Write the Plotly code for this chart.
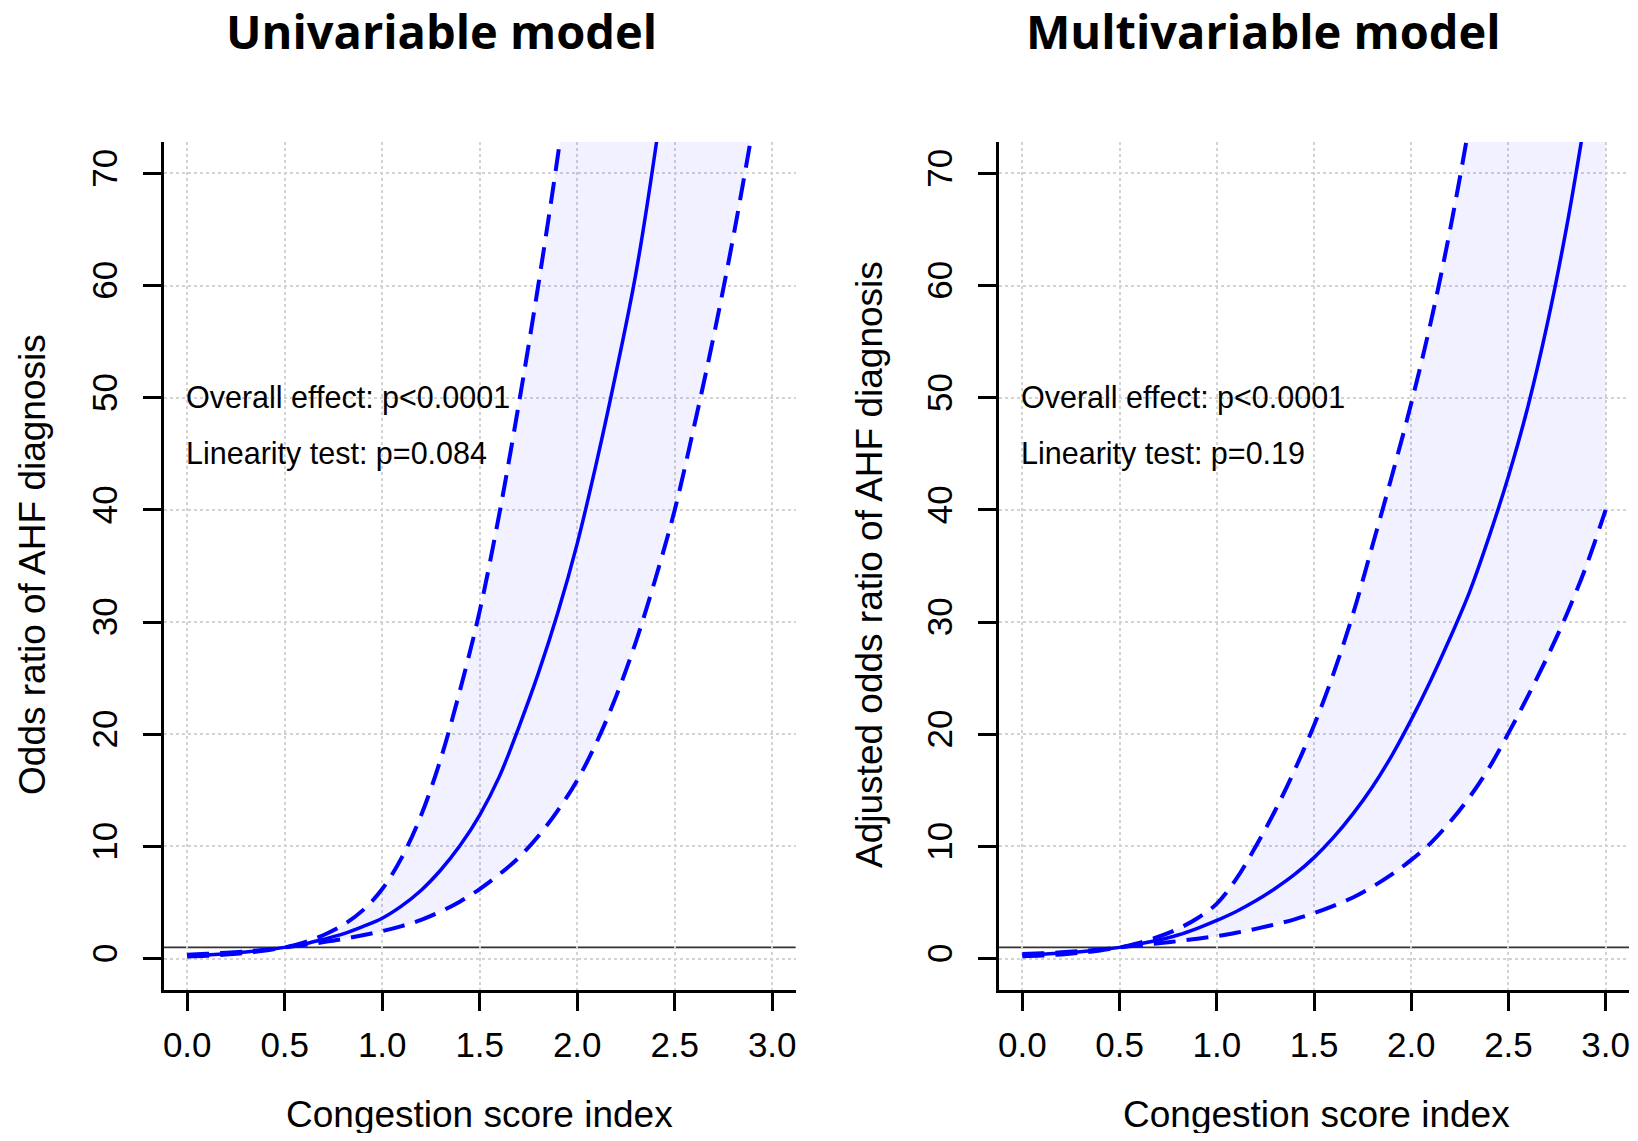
import plotly.graph_objects as go

# ---------------- data ----------------
panel_titles = ["Univariable model", "Multivariable model"]
y_titles = ["Odds ratio of AHF diagnosis", "Adjusted odds ratio of AHF diagnosis"]
x_title = "Congestion score index"
notes_uni = ["Overall effect: p&lt;0.0001", "Linearity test: p=0.084"]
notes_multi = ["Overall effect: p&lt;0.0001", "Linearity test: p=0.19"]

x_tickvals = [0.0, 0.5, 1.0, 1.5, 2.0, 2.5, 3.0]
x_ticktext = ["0.0", "0.5", "1.0", "1.5", "2.0", "2.5", "3.0"]
y_tickvals = [0, 10, 20, 30, 40, 50, 60, 70]
y_ticktext = ["0", "10", "20", "30", "40", "50", "60", "70"]

# Univariable model (x = congestion score index, step 0.1)
x_uni_or = [0.0, 0.1, 0.2, 0.3, 0.4, 0.5, 0.6, 0.7, 0.8, 0.9, 1.0, 1.1, 1.2, 1.3,
            1.4, 1.5, 1.6, 1.7, 1.8, 1.9, 2.0, 2.1, 2.2, 2.3, 2.4, 2.5]
or_uni = [0.25, 0.33, 0.44, 0.58, 0.77, 1.0, 1.3, 1.72, 2.2, 2.85, 3.6, 4.7, 6.1, 7.9,
          10.1, 12.8, 16.2, 20.6, 25.4, 30.8, 37.0, 44.3, 52.3, 61.0, 72.0, 85.0]
x_uni_hi = [0.0, 0.1, 0.2, 0.3, 0.4, 0.5, 0.6, 0.7, 0.8, 0.9, 1.0, 1.1, 1.2, 1.3,
            1.4, 1.5, 1.6, 1.7, 1.8, 1.9, 2.0]
hi_uni = [0.35, 0.43, 0.53, 0.64, 0.8, 1.0, 1.45, 2.1, 3.0, 4.3, 6.2, 9.0, 12.8, 17.8,
          24.0, 31.0, 39.6, 49.4, 60.0, 71.5, 84.0]
x_uni_lo = [0.0, 0.1, 0.2, 0.3, 0.4, 0.5, 0.6, 0.7, 0.8, 0.9, 1.0, 1.1, 1.2, 1.3,
            1.4, 1.5, 1.6, 1.7, 1.8, 1.9, 2.0, 2.1, 2.2, 2.3, 2.4, 2.5, 2.6, 2.7, 2.8, 2.9]
lo_uni = [0.18, 0.25, 0.36, 0.5, 0.72, 1.0, 1.22, 1.47, 1.75, 2.08, 2.45, 2.9, 3.45, 4.2,
          5.1, 6.2, 7.5, 9.0, 10.9, 13.2, 15.9, 19.3, 23.4, 28.2, 33.8, 40.0, 47.5, 55.5,
          64.3, 74.0]

# Multivariable model
x_multi_or = [0.0, 0.1, 0.2, 0.3, 0.4, 0.5, 0.6, 0.7, 0.8, 0.9, 1.0, 1.1, 1.2, 1.3,
              1.4, 1.5, 1.6, 1.7, 1.8, 1.9, 2.0, 2.1, 2.2, 2.3, 2.4, 2.5, 2.6, 2.7, 2.8, 2.9]
or_multi = [0.3, 0.38, 0.49, 0.62, 0.79, 1.0, 1.3, 1.65, 2.1, 2.7, 3.4, 4.2, 5.15, 6.25,
            7.5, 9.0, 10.8, 12.9, 15.3, 18.1, 21.3, 24.8, 28.6, 32.7, 37.6, 43.0, 49.2,
            56.6, 65.3, 75.5]
x_multi_hi = [0.0, 0.1, 0.2, 0.3, 0.4, 0.5, 0.6, 0.7, 0.8, 0.9, 1.0, 1.1, 1.2, 1.3,
              1.4, 1.5, 1.6, 1.7, 1.8, 1.9, 2.0, 2.1, 2.2, 2.3, 2.4, 2.5, 2.6, 2.7, 2.8, 2.9, 3.0]
hi_multi = [0.4, 0.47, 0.56, 0.67, 0.82, 1.0, 1.4, 1.95, 2.65, 3.6, 4.9, 7.1, 10.0, 13.2,
            16.8, 20.8, 25.4, 30.7, 36.8, 43.0, 49.5, 56.7, 65.0, 74.5, 85.0, 96.0, 108.0,
            121.0, 135.0, 150.0, 166.0]
x_multi_lo = [0.0, 0.1, 0.2, 0.3, 0.4, 0.5, 0.6, 0.7, 0.8, 0.9, 1.0, 1.1, 1.2, 1.3,
              1.4, 1.5, 1.6, 1.7, 1.8, 1.9, 2.0, 2.1, 2.2, 2.3, 2.4, 2.5, 2.6, 2.7, 2.8, 2.9, 3.0]
lo_multi = [0.2, 0.27, 0.37, 0.52, 0.73, 1.0, 1.18, 1.36, 1.56, 1.77, 2.0, 2.3, 2.65, 3.05,
            3.5, 4.05, 4.7, 5.45, 6.4, 7.5, 8.8, 10.3, 12.2, 14.4, 17.0, 20.1, 23.4, 26.9,
            30.7, 35.0, 40.0]

reference_or = 1

# ---------------- styling ----------------
OFF = 8                       # default page margin of the html body
W, H = 1638 - 2 * OFF, 1141 - 2 * OFF
BLUE = "#0000FF"
FILL = "rgba(0,0,255,0.055)"
FONT = "Liberation Sans, Arial, sans-serif"
DASH = "22px,11px"

fig = go.Figure()

panels = [
    ("x", "y", x_uni_or, or_uni, x_uni_hi, hi_uni, x_uni_lo, lo_uni),
    ("x2", "y2", x_multi_or, or_multi, x_multi_hi, hi_multi, x_multi_lo, lo_multi),
]

for xa, ya, xo, yo, xh, yh, xl, yl in panels:
    # confidence band fill
    fig.add_trace(go.Scatter(x=xl, y=yl, xaxis=xa, yaxis=ya, mode="lines",
                             line=dict(width=0, shape="spline", smoothing=1.0),
                             hoverinfo="skip", showlegend=False))
    fig.add_trace(go.Scatter(x=xh, y=yh, xaxis=xa, yaxis=ya, mode="lines",
                             line=dict(width=0, shape="spline", smoothing=1.0),
                             fill="tonexty", fillcolor=FILL,
                             hoverinfo="skip", showlegend=False))
    # dashed CI lines
    for xx, yy in [(xh, yh), (xl, yl)]:
        fig.add_trace(go.Scatter(x=xx, y=yy, xaxis=xa, yaxis=ya, mode="lines",
                                 line=dict(color=BLUE, width=4, dash=DASH,
                                           shape="spline", smoothing=1.0),
                                 showlegend=False))
    # estimate
    fig.add_trace(go.Scatter(x=xo, y=yo, xaxis=xa, yaxis=ya, mode="lines",
                             line=dict(color=BLUE, width=3.5, shape="spline", smoothing=1.0),
                             showlegend=False))

# reference line at OR = 1
for xa, ya in [("x", "y"), ("x2", "y2")]:
    fig.add_shape(type="line", xref=f"{xa} domain", yref=ya, x0=0, x1=1,
                  y0=reference_or, y1=reference_or,
                  line=dict(color="#333333", width=1.6), layer="below")


# pixel positions (page coordinates measured from reference) -> paper
def px_x(p):
    return min(1.0, max(0.0, (p - OFF) / W))


def px_y(p):
    return min(1.0, max(0.0, (H - (p - OFF)) / H))


y_dom = [px_y(990), px_y(142)]
x_dom1 = [px_x(163), px_x(795.6)]
x_dom2 = [px_x(999.3), px_x(1630)]

axis_common = dict(showline=True, linewidth=2.5, linecolor="black",
                   ticks="outside", ticklen=18, tickwidth=2.5, tickcolor="black",
                   showgrid=True, gridcolor="#D3D3D3", griddash="dot", gridwidth=1.5,
                   zeroline=False, mirror=False, ticklabeloverflow="allow",
                   tickfont=dict(family=FONT, size=35, color="black"))

xaxis_common = dict(axis_common, range=[-0.12, 3.12], tickmode="array",
                    tickvals=x_tickvals, ticktext=x_ticktext, ticklabelstandoff=4)
yaxis_common = dict(axis_common, range=[-2.8, 72.8], tickmode="array",
                    tickvals=y_tickvals, ticktext=y_ticktext, tickangle=-90,
                    ticklabelstandoff=12)

fig.update_layout(
    width=W, height=H,
    margin=dict(l=0, r=0, t=0, b=0),
    paper_bgcolor="white", plot_bgcolor="white",
    xaxis=dict(xaxis_common, domain=x_dom1, anchor="y"),
    yaxis=dict(yaxis_common, domain=y_dom, anchor="x"),
    xaxis2=dict(xaxis_common, domain=x_dom2, anchor="y2"),
    yaxis2=dict(yaxis_common, domain=y_dom, anchor="x2"),
    showlegend=False,
)

annotations = []
# panel titles
for txt, cx in zip(panel_titles, [441, 1264]):
    annotations.append(dict(text=f"<b>{txt}</b>", x=px_x(cx), y=px_y(31),
                            xref="paper", yref="paper", showarrow=False,
                            xanchor="center", yanchor="middle", height=42, valign="middle",
                            font=dict(family="Open Sans, Lato, sans-serif", size=47,
                                      color="black")))
# y titles
for txt, cx in zip(y_titles, [31, 869]):
    annotations.append(dict(text=txt, x=px_x(cx), y=px_y(564), xref="paper", yref="paper",
                            showarrow=False, textangle=-90, xanchor="center", yanchor="middle",
                            font=dict(family=FONT, size=37, color="black")))
# x titles
for cx in [(163 + 795.6) / 2, (999.3 + 1634.3) / 2]:
    annotations.append(dict(text=x_title, x=px_x(cx), y=px_y(1114),
                            xref="paper", yref="paper", showarrow=False,
                            xanchor="center", yanchor="middle", height=40, valign="middle",
                            font=dict(family=FONT, size=37, color="black")))
# statistics notes
for (xa, ya), notes in zip([("x", "y"), ("x2", "y2")], [notes_uni, notes_multi]):
    for txt, yy in zip(notes, [50, 45]):
        annotations.append(dict(text=txt, x=0, y=yy, xref=xa, yref=ya, showarrow=False,
                                xanchor="left", yanchor="middle", xshift=-3,
                                font=dict(family=FONT, size=30.5, color="black")))

fig.update_layout(annotations=annotations)
fig.write_html("out.html")
